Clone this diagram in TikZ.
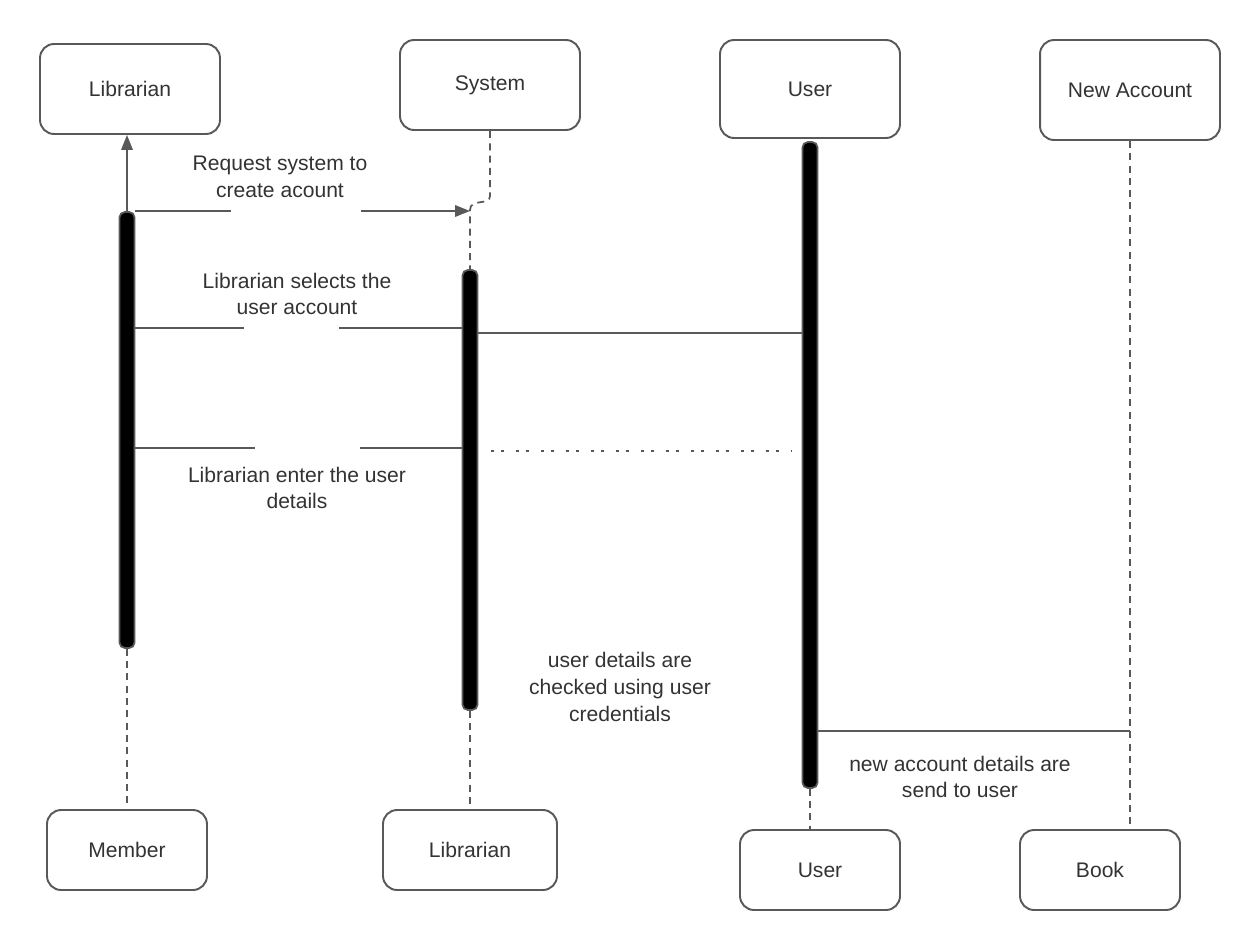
\documentclass[tikz,border=0pt]{standalone}
\usepackage{fontspec}
\setmainfont{Liberation Sans}
\usetikzlibrary{arrows.meta, positioning}
\definecolor{linegray}{HTML}{595959}
\definecolor{textgray}{HTML}{333333}

\begin{document}
\begin{tikzpicture}[x=0.02cm, y=-0.02cm, >={Triangle[length=8.5pt, width=6.5pt]},
  actor/.style={draw=linegray, line width=1.1pt, rounded corners=8pt, fill=white,
    text=textgray, font=\fontsize{12}{15}\selectfont, minimum width=3.6cm, minimum height=1.8cm},
  bar/.style={draw=linegray, line width=1pt, fill=black, rounded corners=3pt,
    minimum width=0.3cm, inner sep=0pt},
  life/.style={draw=linegray, line width=1pt, dash pattern=on 4pt off 3pt},
  msg/.style={draw=linegray, line width=1.1pt},
  dots/.style={draw=linegray, line width=1.1pt, dash pattern=on 1.7pt off 4pt on 1.7pt off 6.8pt},
  gap/.style={fill=white, inner sep=0pt, minimum height=4pt},
  lbl/.style={text=textgray, font=\fontsize{12}{15.3}\selectfont, align=center}]
  \useasboundingbox (0,0) rectangle (1260,950);

  % heads
  \node[actor] (librarianTop) at (130,89) {Librarian};
  \node[actor] (systemTop) at (490,85) {System};
  \node[actor, minimum height=1.96cm] (userTop) at (810,89) {User};
  \node[actor, minimum height=2cm] (accountTop) at (1130,90) {New Account};

  % feet
  \node[actor, minimum width=3.2cm, minimum height=1.6cm] (memberBox) at (127,850) {Member};
  \node[actor, minimum width=3.48cm, minimum height=1.6cm] (librarianBox) at (470,850) {Librarian};
  \node[actor, minimum width=3.2cm, minimum height=1.6cm] (userBox) at (820,870) {User};
  \node[actor, minimum width=3.2cm, minimum height=1.6cm] (bookBox) at (1100,870) {Book};

  % activations
  \node[bar, minimum height=8.72cm] (libBar) at (127,430) {};
  \node[bar, minimum height=8.8cm] (sysBar) at (470,490) {};
  \node[bar, minimum height=12.92cm] (userBar) at (810,465) {};

  % lifelines
  \draw[msg, ->] (libBar.north) -- (libBar.north |- librarianTop.south);
  \draw[life] (libBar.south) -- (memberBox.north);
  \draw[life] (systemTop.south) -- (490,196) .. controls (490,206) and (470,198) .. (470,210) -- (sysBar.north);
  \draw[life] (sysBar.south) -- (librarianBox.north);
  \draw[life] (userBar.south) -- (userBar.south |- userBox.north);
  \draw[life] (accountTop.south) -- (accountTop.south |- bookBox.north);

  % messages
  \coordinate (m1) at (470,211);
  \coordinate (m2) at (0,328);
  \coordinate (m3) at (0,333);
  \coordinate (m4) at (0,448);
  \coordinate (m5) at (0,451);
  \coordinate (m6) at (0,731);
  \draw[msg, ->] (libBar.east |- m1) -- node[gap, pos=0.48, minimum width=2.6cm] {} (m1);
  \draw[msg] (libBar.east |- m2) -- node[gap, pos=0.48, minimum width=1.9cm] {} (sysBar.west |- m2);
  \draw[msg] (sysBar.east |- m3) -- (userBar.west |- m3);
  \draw[msg] (libBar.east |- m4) -- node[gap, pos=0.527, minimum width=2.1cm] {} (sysBar.west |- m4);
  \draw[dots, shorten <=0.26cm, shorten >=0.2cm] (sysBar.east |- m5) -- (userBar.west |- m5);
  \draw[msg] (userBar.east |- m6) -- (accountTop.south |- m6);

  % labels
  \node[lbl] (reqLbl) at (280,177) {Request system to\\create acount};
  \node[lbl] (selLbl) at (297,294) {Librarian selects the\\user account};
  \node[lbl] (entLbl) at (297,488) {Librarian enter the user\\details};
  \node[lbl] (chkLbl) at (620,687) {user details are\\checked using user\\credentials};
  \node[lbl] (sendLbl) at (960,777) {new account details are\\send to user};
\end{tikzpicture}
\end{document}
